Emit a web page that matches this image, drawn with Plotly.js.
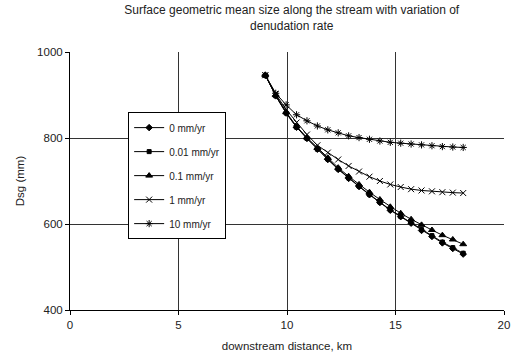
<!DOCTYPE html>
<html>
<head>
<meta charset="utf-8">
<script src="https://cdn.plot.ly/plotly-3.0.1.min.js"></script>
<style>
  html, body { margin: 0; padding: 0; background: #fff; }
  #chart { width: 521px; height: 358px; }
</style>
</head>
<body>
<div id="chart"></div>
<script>
// Downstream distance of each computed section (km)
const distanceKm = [9.0, 9.48, 9.96, 10.44, 10.92, 11.40, 11.88, 12.36, 12.84, 13.32,
                    13.80, 14.28, 14.76, 15.24, 15.72, 16.20, 16.68, 17.16, 17.64, 18.12];

// Surface geometric mean size Dsg (mm) for each denudation rate
const dsg0mm    = [946, 898, 858, 825, 799, 774, 750, 727, 706, 687, 668, 650, 632, 617, 602, 585, 571, 556, 543, 530];
const dsg001mm  = [946, 898, 858, 825, 799, 774, 751, 728, 707, 688, 669, 651, 633, 618, 603, 587, 573, 558, 545, 532];
const dsg01mm   = [946, 900, 860, 827, 801, 777, 754, 731, 711, 692, 674, 657, 640, 625, 611, 598, 586, 574, 564, 553];
const dsg1mm    = [946, 902, 866, 836, 808, 783, 766, 750, 735, 722, 710, 700, 692, 686, 681, 678, 676, 674, 673, 672];
const dsg10mm   = [946, 904, 877, 854, 840, 828, 819, 812, 805, 801, 797, 793, 790, 788, 786, 784, 782, 780, 779, 778];

const seriesNames = ['0 mm/yr', '0.01 mm/yr', '0.1 mm/yr', '1 mm/yr', '10 mm/yr'];
const seriesValues = [dsg0mm, dsg001mm, dsg01mm, dsg1mm, dsg10mm];
const seriesSymbols = ['diamond', 'square', 'triangle-up', 'x-thin-open', 'asterisk-open'];
const seriesSizes = [5, 4, 6, 6, 6];

const traces = seriesNames.map((name, i) => ({
  type: 'scatter',
  mode: 'lines+markers',
  name: name,
  legendgroup: 'g' + i,
  x: distanceKm,
  y: seriesValues[i],
  line: { color: '#000', width: 1 },
  marker: {
    symbol: seriesSymbols[i],
    size: seriesSizes[i],
    color: '#000',
    line: { color: '#000', width: 1 }
  }
}));

const layout = {
  width: 521,
  height: 358,
  margin: { l: 70, r: 17, t: 52, b: 48 },
  paper_bgcolor: '#fff',
  plot_bgcolor: '#fff',
  font: { family: 'Liberation Sans, Arial, sans-serif', size: 11.5, color: '#222' },
  title: {
    text: 'Surface geometric mean size along the stream with variation of<br>denudation rate',
    font: { size: 12, color: '#222' },
    xref: 'container', x: 0.56, xanchor: 'center',
    yref: 'container', y: 0.961, yanchor: 'top'
  },
  xaxis: {
    range: [0, 20],
    dtick: 5,
    showgrid: true,
    gridcolor: '#333',
    gridwidth: 1,
    zeroline: false,
    showline: true,
    linecolor: '#000',
    linewidth: 1,
    ticks: 'outside',
    ticklen: 4,
    tickcolor: '#000',
    title: { text: 'downstream distance, km', font: { size: 11.5 }, standoff: 12 }
  },
  yaxis: {
    range: [400, 1000],
    dtick: 200,
    showgrid: true,
    gridcolor: '#333',
    gridwidth: 1,
    zeroline: false,
    showline: true,
    linecolor: '#000',
    linewidth: 1,
    ticks: 'outside',
    ticklen: 4,
    tickcolor: '#000',
    title: { text: 'Dsg (mm)', font: { size: 11.5 }, standoff: 10 }
  },
  showlegend: true,
  legend: {
    x: 0.134, xanchor: 'left',
    y: 0.767, yanchor: 'top',
    bgcolor: '#fff',
    bordercolor: '#000',
    borderwidth: 1,
    font: { size: 10, color: '#222' },
    traceorder: 'grouped',
    tracegroupgap: 5,
    itemwidth: 30
  }
};

Plotly.newPlot('chart', traces, layout, { displayModeBar: false, staticPlot: true });
</script>
</body>
</html>
